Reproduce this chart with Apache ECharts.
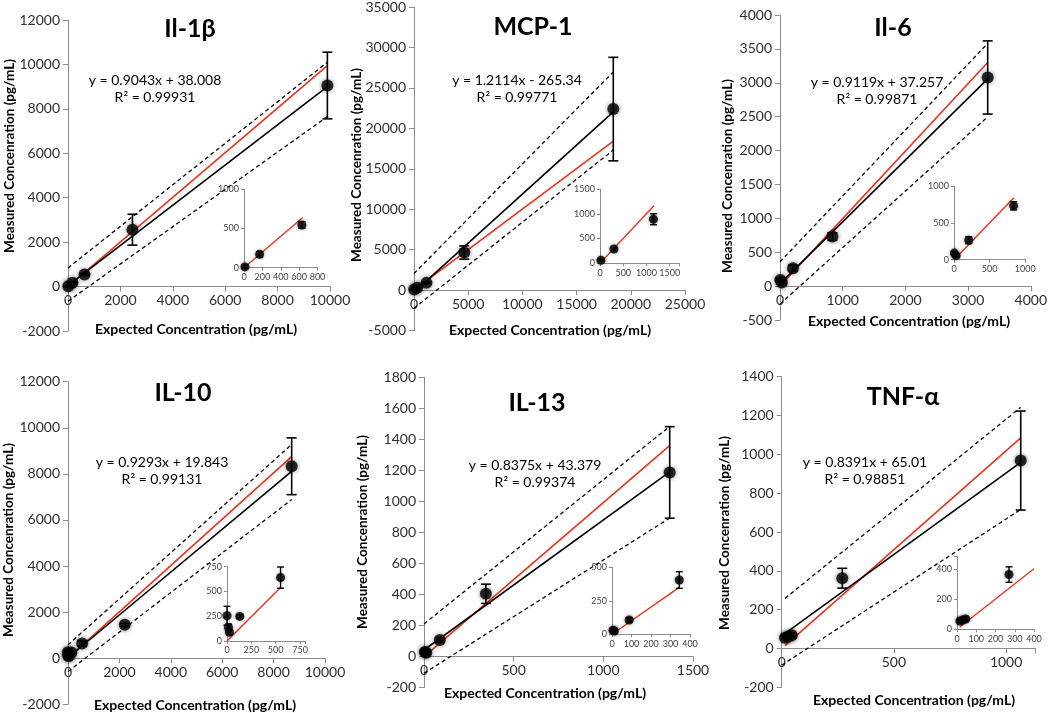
<!DOCTYPE html>
<html><head><meta charset="utf-8">
<script src="https://cdn.jsdelivr.net/npm/echarts@6/dist/echarts.min.js"></script>
<style>html,body{margin:0;padding:0;background:#fff}#c{width:1050px;height:713px}</style>
</head><body><div id="c"></div>
<script>
// ---------- DATA ----------
const titles = ['Il-1β', 'MCP-1', 'Il-6', 'IL-10', 'IL-13', 'TNF-α'];
const equations = ['y = 0.9043x + 38.008', 'y = 1.2114x - 265.34', 'y = 0.9119x + 37.257',
                   'y = 0.9293x + 19.843', 'y = 0.8375x + 43.379', 'y = 0.8391x + 65.01'];
const rSquared = ['R² = 0.99931', 'R² = 0.99771', 'R² = 0.99871', 'R² = 0.99131', 'R² = 0.99374', 'R² = 0.98851'];
const yTitle = 'Measured Concenration (pg/mL)';
const xTitle = 'Expected Concentration (pg/mL)';

// Il-1β
const il1bX = [10, 170, 630, 2460, 9900];
const il1bY = [10, 170, 545, 2560, 9050];
const il1bErr = [20, 36, 42, 696, 1500];
const il1bRed = [[0, 0], [9900, 9950]];
const il1bFit = [[0, 38], [9900, 9000]];
const il1bUpper = [[0, 840], [9900, 10100]];
const il1bLower = [[0, -660], [9900, 7650]];
const il1bInsetN = 3;
const il1bInsetRed = [[0, 0], [640, 640]];

// MCP-1
const mcpX = [20, 300, 1150, 4640, 18385];
const mcpY = [60, 289, 889, 4640, 22377];
const mcpErr = [20, 30, 111, 820, 6400];
const mcpRed = [[0, 0], [18385, 18420]];
const mcpFit = [[0, -265], [18385, 22040]];
const mcpUpper = [[0, 2050], [18385, 26970]];
const mcpLower = [[0, -2250], [18385, 17320]];
const mcpInsetN = 3;
const mcpInsetRed = [[0, 0], [1160, 1160]];

// Il-6
const il6X = [5, 30, 207, 836, 3313];
const il6Y = [90, 55, 264, 731, 3078];
const il6Err = [20, 20, 45, 56, 540];
const il6Red = [[0, 0], [3313, 3300]];
const il6Fit = [[0, 37], [3313, 3058]];
const il6Upper = [[0, 358], [3313, 3580]];
const il6Lower = [[0, -265], [3313, 2497]];
const il6InsetN = 4;
const il6InsetRed = [[0, 0], [840, 840]];

// IL-10
const il10X = [0, 15, 25, 131, 550, 2209, 8703];
const il10Y = [255, 136, 89, 248, 640, 1448, 8330];
const il10Err = [95, 35, 25, 15, 107, 70, 1232];
const il10Red = [[0, 0], [8703, 8750]];
const il10Fit = [[0, 20], [8703, 8105]];
const il10Upper = [[0, 580], [8703, 9275]];
const il10Lower = [[0, -580], [8703, 6885]];
const il10InsetN = 5;
const il10InsetRed = [[0, 0], [550, 540]];

// IL-13
const il13X = [5, 12, 88, 345, 1370];
const il13Y = [30, 25, 107, 405, 1187];
const il13Err = [10, 10, 15, 62, 295];
const il13Red = [[0, 0], [1370, 1360]];
const il13Fit = [[0, 43], [1370, 1191]];
const il13Upper = [[0, 211], [1370, 1484]];
const il13Lower = [[0, -107], [1370, 893]];
const il13InsetN = 4;
const il13InsetRed = [[0, 0], [345, 350]];

// TNF-α
const tnfX = [15, 30, 45, 270, 1065];
const tnfY = [55, 62, 68, 362, 968];
const tnfErr = [10, 12, 12, 51, 255];
const tnfRed = [[15, 15], [1065, 1085]];
const tnfFit = [[0, 65], [1065, 959]];
const tnfUpper = [[15, 258], [1065, 1242]];
const tnfLower = [[0, -86], [1065, 716]];
const tnfInsetN = 4;
const tnfInsetRed = [[15, 15], [400, 400]];

// axis ranges / tick labels
const mainXMax = [10000, 25000, 4000, 10000, 1500, 1130];
const mainXInterval = [2000, 5000, 1000, 2000, 500, 500];
const mainYMin = [-2000, -5000, -500, -2000, -200, -200];
const mainYMax = [12000, 35000, 4000, 12000, 1800, 1400];
const mainYInterval = [2000, 5000, 500, 2000, 200, 200];
const insetXMax = [800, 1700, 1000, 800, 400, 400];
const insetXInterval = [200, 500, 500, 250, 100, 100];
const insetYMax = [1000, 1500, 1000, 750, 500, 480];
const insetYInterval = [500, 500, 500, 250, 250, 200];

// ---------- LAYOUT ----------
const mainGrid = [
  {left: 68, top: 20, width: 262, height: 311},
  {left: 414, top: 6.5, width: 271, height: 324},
  {left: 780, top: 15, width: 254, height: 305},
  {left: 68, top: 381.7, width: 257, height: 322.6},
  {left: 424, top: 377.3, width: 269, height: 310.4},
  {left: 781.7, top: 376.7, width: 253.6, height: 310.6}
];
const insetGrid = [
  {left: 244, top: 189.3, width: 73.5, height: 78.4},
  {left: 600, top: 189, width: 79, height: 74.3},
  {left: 954, top: 186, width: 71.3, height: 73.7},
  {left: 227, top: 566.7, width: 77.9, height: 74.3},
  {left: 612, top: 567.3, width: 78, height: 67},
  {left: 957, top: 556.7, width: 77, height: 72.6}
];
const titlePos = [[190, 29], [533, 27], [893, 28], [183, 393], [537, 403], [903, 397]];
const eqPos = [[155, 80], [517, 80], [877, 82], [162, 462], [535, 465], [865, 462]];
const yTitlePos = [[10, 156], [357, 165], [728, 176], [9, 540], [363, 532], [725, 533]];
const xTitlePos = [[196, 329], [550, 330], [909, 321], [195, 705], [545, 693], [914, 700]];

const panels = [
  {x: il1bX, y: il1bY, e: il1bErr, red: il1bRed, fit: il1bFit, up: il1bUpper, lo: il1bLower, n: il1bInsetN, ired: il1bInsetRed},
  {x: mcpX, y: mcpY, e: mcpErr, red: mcpRed, fit: mcpFit, up: mcpUpper, lo: mcpLower, n: mcpInsetN, ired: mcpInsetRed},
  {x: il6X, y: il6Y, e: il6Err, red: il6Red, fit: il6Fit, up: il6Upper, lo: il6Lower, n: il6InsetN, ired: il6InsetRed},
  {x: il10X, y: il10Y, e: il10Err, red: il10Red, fit: il10Fit, up: il10Upper, lo: il10Lower, n: il10InsetN, ired: il10InsetRed},
  {x: il13X, y: il13Y, e: il13Err, red: il13Red, fit: il13Fit, up: il13Upper, lo: il13Lower, n: il13InsetN, ired: il13InsetRed},
  {x: tnfX, y: tnfY, e: tnfErr, red: tnfRed, fit: tnfFit, up: tnfUpper, lo: tnfLower, n: tnfInsetN, ired: tnfInsetRed}
];

const FONT = 'Lato, "Open Sans", "DejaVu Sans", sans-serif';
const AX = '#8c8c8c';
const RED = '#e8321e';

function labelFmt(step) {
  return function (v) { return (Math.abs(v % step) < 1e-9) ? String(v) : ''; };
}
function errorRenderer(cap, lw) {
  return function (params, api) {
    const x = api.value(0), y = api.value(1), e = api.value(2);
    const t = api.coord([x, y + e]), b = api.coord([x, y - e]);
    const st = {stroke: '#000', lineWidth: lw};
    return {type: 'group', children: [
      {type: 'line', shape: {x1: t[0], y1: t[1], x2: b[0], y2: b[1]}, style: st},
      {type: 'line', shape: {x1: t[0] - cap, y1: t[1], x2: t[0] + cap, y2: t[1]}, style: st},
      {type: 'line', shape: {x1: b[0] - cap, y1: b[1], x2: b[0] + cap, y2: b[1]}, style: st}
    ]};
  };
}

const grids = [], xAxes = [], yAxes = [], series = [], graphics = [];
panels.forEach((p, i) => {
  const gm = i * 2, gi = i * 2 + 1;
  grids.push(Object.assign({containLabel: false}, mainGrid[i]));
  grids.push(Object.assign({containLabel: false}, insetGrid[i]));
  const axCommon = (fs) => ({
    splitLine: {show: false},
    axisLine: {onZero: false, lineStyle: {color: AX, width: 1}},
    axisTick: {show: true, length: fs > 10 ? 5 : 3, lineStyle: {color: AX}},
  });
  // x axis crosses the y axis at 0: shift it up from the grid bottom by the height of the negative part
  const zeroShift = mainGrid[i].height * (0 - mainYMin[i]) / (mainYMax[i] - mainYMin[i]);
  xAxes.push(Object.assign(axCommon(14), {type: 'value', gridIndex: gm, min: 0, max: mainXMax[i], interval: mainXInterval[i],
    position: 'bottom', offset: -zeroShift,
    axisLabel: {fontSize: 14, color: '#2e2e2e', fontFamily: FONT, margin: 7, formatter: labelFmt(mainXInterval[i])}}));
  yAxes.push(Object.assign(axCommon(14), {type: 'value', gridIndex: gm, min: mainYMin[i], max: mainYMax[i], interval: mainYInterval[i],
    axisLabel: {fontSize: 14, color: '#2e2e2e', fontFamily: FONT, margin: 8, formatter: labelFmt(mainYInterval[i])}}));
  xAxes.push(Object.assign(axCommon(9), {type: 'value', gridIndex: gi, min: 0, max: insetXMax[i], interval: insetXInterval[i],
    axisLabel: {fontSize: 9, color: '#444', fontFamily: FONT, margin: 5, formatter: labelFmt(insetXInterval[i])}}));
  yAxes.push(Object.assign(axCommon(9), {type: 'value', gridIndex: gi, min: 0, max: insetYMax[i], interval: insetYInterval[i],
    axisLabel: {fontSize: 9, color: '#444', fontFamily: FONT, margin: 5, formatter: labelFmt(insetYInterval[i])}}));

  const pts = p.x.map((v, k) => [v, p.y[k], p.e[k]]);
  const ipts = pts.slice(0, p.n);
  const line = (data, color, w, type, xi, z) => ({type: 'line', xAxisIndex: xi, yAxisIndex: xi, data: data,
    showSymbol: false, symbol: 'none', silent: true, z: z, lineStyle: {color: color, width: w, type: type}});
  series.push(line(p.red, RED, 1.6, 'solid', gm, 2));
  series.push(line(p.fit, '#000', 1.6, 'solid', gm, 3));
  series.push(line(p.up, '#000', 1.3, [4, 3], gm, 3));
  series.push(line(p.lo, '#000', 1.3, [4, 3], gm, 3));
  series.push({type: 'custom', xAxisIndex: gm, yAxisIndex: gm, data: pts, encode: {x: 0, y: 1},
    renderItem: errorRenderer(5, 1.6), z: 4, silent: true});
  series.push({type: 'scatter', xAxisIndex: gm, yAxisIndex: gm, data: pts, symbolSize: 12, z: 5, silent: true,
    itemStyle: {color: '#000', shadowBlur: 4, shadowColor: 'rgba(0,0,0,0.6)'}});

  series.push(line(p.ired, RED, 1.4, 'solid', gi, 2));
  series.push({type: 'custom', xAxisIndex: gi, yAxisIndex: gi, data: ipts, encode: {x: 0, y: 1},
    renderItem: errorRenderer(3.5, 1.4), z: 4, silent: true});
  series.push({type: 'scatter', xAxisIndex: gi, yAxisIndex: gi, data: ipts, symbolSize: 9, z: 5, silent: true,
    itemStyle: {color: '#000', shadowBlur: 3, shadowColor: 'rgba(0,0,0,0.6)'}});

  const txt = (s, pos, font, rot) => ({type: 'text', x: pos[0], y: pos[1], rotation: rot || 0, silent: true,
    style: {text: s, x: 0, y: 0, font: font, fill: '#000', textAlign: 'center', textVerticalAlign: 'middle',
            align: 'center', verticalAlign: 'middle'}});
  graphics.push(txt(titles[i], titlePos[i], 'bold 25px ' + FONT));
  graphics.push(txt(equations[i], eqPos[i], '14px ' + FONT));
  graphics.push(txt(rSquared[i], [eqPos[i][0], eqPos[i][1] + 17], '14px ' + FONT));
  graphics.push(txt(yTitle, yTitlePos[i], 'bold 13.5px ' + FONT, Math.PI / 2));
  graphics.push(txt(xTitle, xTitlePos[i], 'bold 14px ' + FONT));
});

const chart = echarts.init(document.getElementById('c'), null, {renderer: 'canvas'});
chart.setOption({
  animation: false,
  backgroundColor: '#fff',
  grid: grids, xAxis: xAxes, yAxis: yAxes, series: series, graphic: graphics
});
</script></body></html>
